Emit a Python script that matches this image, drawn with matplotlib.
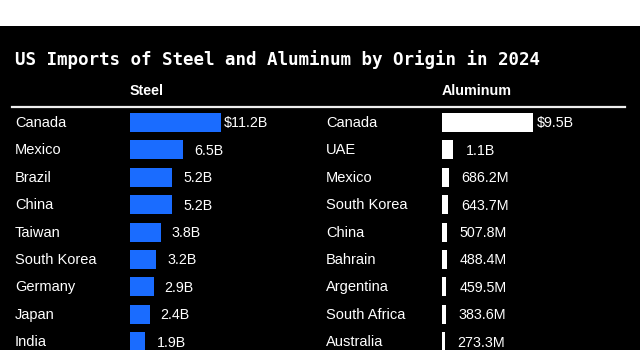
import matplotlib
matplotlib.use("Agg")
import matplotlib.pyplot as plt
from matplotlib.patches import Rectangle
from matplotlib.lines import Line2D

title = "US Imports of Steel and Aluminum by Origin in 2024"
steel_countries = ["Canada", "Mexico", "Brazil", "China", "Taiwan", "South Korea",
                   "Germany", "Japan", "India"]
steel_values = [11.2, 6.5, 5.2, 5.2, 3.8, 3.2, 2.9, 2.4, 1.9]  # $B
steel_labels = ["$11.2B", "6.5B", "5.2B", "5.2B", "3.8B", "3.2B", "2.9B", "2.4B", "1.9B"]

alu_countries = ["Canada", "UAE", "Mexico", "South Korea", "China", "Bahrain",
                 "Argentina", "South Africa", "Australia"]
alu_values = [9.5, 1.1, 0.6862, 0.6437, 0.5078, 0.4884, 0.4595, 0.3836, 0.2733]  # $B
alu_labels = ["$9.5B", "1.1B", "686.2M", "643.7M", "507.8M", "488.4M", "459.5M",
              "383.6M", "273.3M"]

W, H = 640, 350
fig = plt.figure(figsize=(W / 100, H / 100), dpi=100)
fig.patch.set_facecolor("black")
fig.patches.append(Rectangle((0, 1 - 26 / H), 1, 26 / H, transform=fig.transFigure,
                             facecolor="white", edgecolor="none", zorder=0))

FONT = "Liberation Sans"
fig.text(15 / W, 1 - 65 / H, title, color="white", fontsize=12.6,
         fontweight="bold", family="DejaVu Sans Mono", va="baseline", ha="left")

fig.text(130 / W, 1 - 91 / H, "Steel", color="white", fontsize=10.3,
         fontweight="bold", family=FONT, va="center", ha="left")
fig.text(442 / W, 1 - 91 / H, "Aluminum", color="white", fontsize=10.3,
         fontweight="bold", family=FONT, va="center", ha="left")

fig.lines.append(Line2D([12 / W, 625 / W], [1 - 107 / H, 1 - 107 / H],
                        transform=fig.transFigure, color="#eeeeee", lw=1.6))

row0, step = 122.5, 27.4
top_px, bot_px = 108, 350
ylo = (bot_px - row0) / step
yhi = (top_px - row0) / step
axw = 180


def panel(left_px, country_x_px, countries, values, labels, color, first_off, off):
    ax = fig.add_axes([left_px / W, 0, axw / W, (bot_px - top_px) / H])
    ax.set_facecolor("none")
    ys = list(range(len(values)))
    ax.barh(ys, values, height=19 / step, color=color, edgecolor="none")
    ax.set_xlim(0, max(values) * axw / 91)
    ax.set_ylim(ylo, yhi)
    ax.axis("off")
    for i, (c, v, lab) in enumerate(zip(countries, values, labels)):
        ax.annotate(c, xy=(country_x_px / W, i), xycoords=(fig.transFigure, ax.transData),
                    xytext=(0, -4.5), textcoords="offset pixels", color="white",
                    fontsize=10.5, family=FONT, va="baseline", ha="left",
                    annotation_clip=False)
        ax.annotate(lab, xy=(v, i), xytext=(first_off if i == 0 else off, -5),
                    textcoords="offset pixels", color="white", fontsize=10.3,
                    family=FONT, va="baseline", ha="left", annotation_clip=False)
    return ax


panel(130, 15, steel_countries, steel_values, steel_labels, "#1a6cff", 3, 11)
panel(442, 326, alu_countries, alu_values, alu_labels, "white", 4, 13)

fig.savefig("out.png", dpi=100, facecolor=fig.get_facecolor())
